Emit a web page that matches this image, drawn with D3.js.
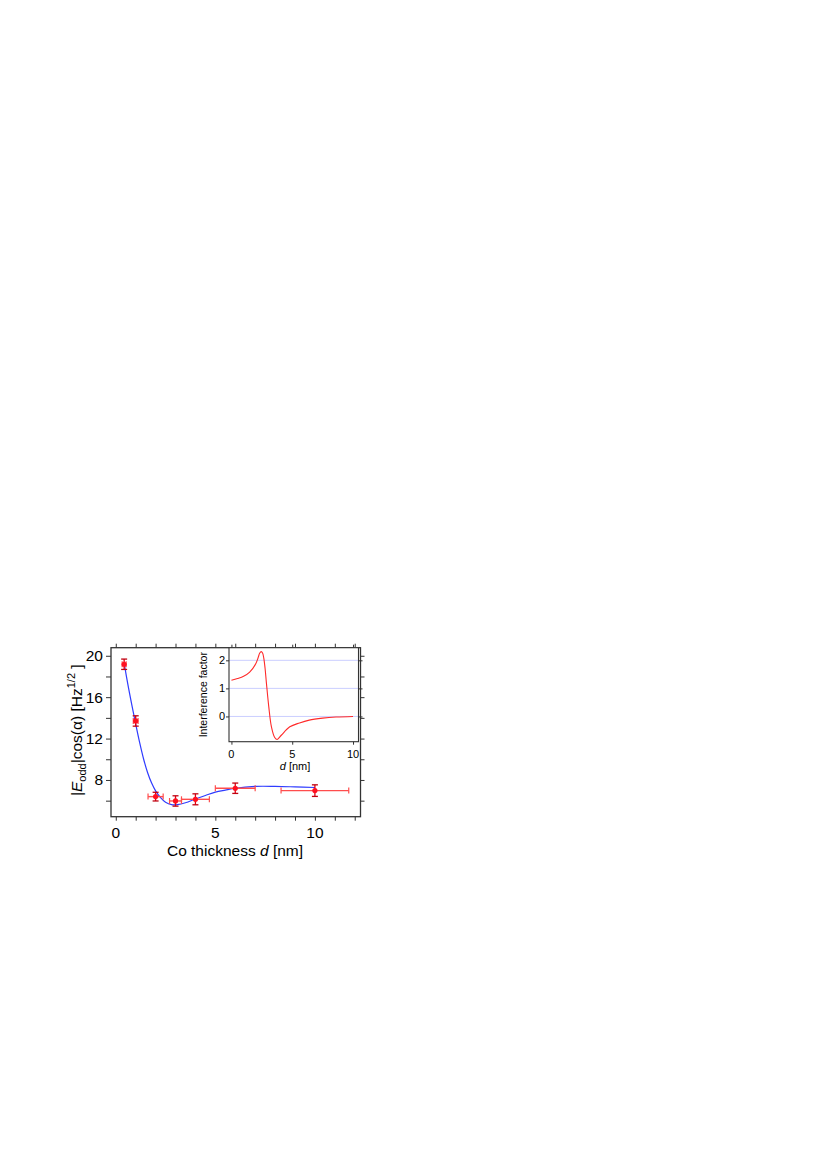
<!DOCTYPE html>
<html>
<head>
<meta charset="utf-8">
<script src="https://cdn.jsdelivr.net/npm/d3@7"></script>
<style>
  body { margin: 0; background: #fff; }
  svg { display: block; font-family: "Liberation Sans", Arial, Helvetica, sans-serif; }
</style>
</head>
<body>
<div id="chart"></div>
<script>
// measured points (Co thickness vs amplitude)
const thickness = [0.42, 1.0, 2.0, 3.0, 4.0, 6.0, 10.0];
const amplitude = [19.18, 13.7, 6.39, 5.97, 6.13, 7.2, 6.97];
const amplitudeErr = [0.5, 0.5, 0.42, 0.5, 0.53, 0.5, 0.56];
const thicknessErr = [0.1, 0.12, 0.38, 0.3, 0.7, 1.0, 1.7];

// fit curve (blue)
const fitD = [0.42, 0.6, 0.8, 1.0, 1.2, 1.4, 1.6, 1.8, 2.0, 2.25, 2.5, 2.8, 3.1, 3.5, 4.0, 4.5, 5.0, 5.5, 6.0, 7.0, 8.0, 9.0, 10.0];
const fitV = [19.3, 17.3, 15.3, 13.4, 11.6, 10.0, 8.7, 7.7, 6.95, 6.3, 5.85, 5.62, 5.62, 5.8, 6.16, 6.5, 6.82, 7.02, 7.2, 7.38, 7.38, 7.33, 7.27];

// inset: interference factor
const insetD = [0, 0.5, 1.0, 1.5, 2.0, 2.2, 2.32, 2.45, 2.56, 2.66, 2.77, 2.88, 3.07, 3.29, 3.56, 3.76, 4.1, 4.8, 5.6, 6.4, 7.5, 8.6, 10];
const insetV = [1.29, 1.35, 1.43, 1.58, 1.88, 2.1, 2.25, 2.31, 2.26, 2.08, 1.7, 1.18, 0.35, -0.37, -0.75, -0.82, -0.67, -0.37, -0.23, -0.13, -0.06, -0.02, 0];

const mainXTicks = d3.range(0, 13, 1);
const mainXLabels = [0, 5, 10];
const mainYTicks = [6, 8, 10, 12, 14, 16, 18, 20];
const mainYLabels = [8, 12, 16, 20];
const insetXTicks = [0, 5, 10];
const insetYTicks = [0, 1, 2];

const svg = d3.select("#chart").append("svg")
  .attr("width", 827)
  .attr("height", 1168);

const frame = { left: 111, right: 360.5, top: 647.7, bottom: 816.7 };
const x = d3.scaleLinear().domain([-0.24, 12.29]).range([frame.left, frame.right]);
const y = d3.scaleLinear().domain([4.45, 20.78]).range([frame.bottom, frame.top]);

const axisColor = "#333";

// main axes, ticks pointing outward
svg.append("g").attr("transform", `translate(0,${frame.top})`)
  .call(d3.axisTop(x).tickValues(mainXTicks).tickSize(4).tickFormat(""));
svg.append("g").attr("transform", `translate(0,${frame.bottom})`)
  .call(d3.axisBottom(x).tickValues(mainXTicks).tickSize(4).tickFormat(""));
svg.append("g").attr("transform", `translate(${frame.left},0)`)
  .call(d3.axisLeft(y).tickValues(mainYTicks).tickSize(5).tickFormat(""));
svg.append("g").attr("transform", `translate(${frame.right},0)`)
  .call(d3.axisRight(y).tickValues(mainYTicks).tickSize(4).tickFormat(""));

svg.selectAll(".domain").remove();
svg.selectAll(".tick line").attr("stroke", axisColor).attr("stroke-width", 1);

svg.append("rect")
  .attr("x", frame.left).attr("y", frame.top)
  .attr("width", frame.right - frame.left)
  .attr("height", frame.bottom - frame.top)
  .attr("fill", "none").attr("stroke", axisColor).attr("stroke-width", 1.3);

// tick labels
svg.append("g").selectAll("text").data(mainXLabels).join("text")
  .attr("x", d => x(d)).attr("y", 838)
  .attr("text-anchor", "middle").attr("font-size", 15.5)
  .text(d => d);
svg.append("g").selectAll("text").data(mainYLabels).join("text")
  .attr("x", 103).attr("y", d => y(d) + 5.5)
  .attr("text-anchor", "end").attr("font-size", 15.5)
  .text(d => d);

// axis titles
const xt = svg.append("text")
  .attr("x", 235).attr("y", 855.5)
  .attr("text-anchor", "middle").attr("font-size", 15.5);
xt.append("tspan").text("Co thickness ");
xt.append("tspan").attr("font-style", "italic").text("d");
xt.append("tspan").text(" [nm]");

const yt = svg.append("text")
  .attr("transform", `translate(82,${(frame.top + frame.bottom) / 2 - 2}) rotate(-90)`)
  .attr("text-anchor", "middle").attr("font-size", 15.5);
yt.append("tspan").text("|");
yt.append("tspan").attr("font-style", "italic").text("E");
yt.append("tspan").attr("font-size", 11).attr("dy", 4).text("odd");
yt.append("tspan").attr("dy", -4).text("|cos(α) [Hz");
yt.append("tspan").attr("font-size", 11).attr("dy", -7).text("1/2");
yt.append("tspan").attr("dy", 7).text(" ]");

// fit curve
const fitPts = fitD.map((d, i) => [d, fitV[i]]);
svg.append("path")
  .datum(fitPts)
  .attr("fill", "none")
  .attr("stroke", "#2f3cff")
  .attr("stroke-width", 1.2)
  .attr("d", d3.line().x(d => x(d[0])).y(d => y(d[1])).curve(d3.curveCatmullRom.alpha(0.5)));

// error bars and points
const pts = thickness.map((d, i) => ({ d, v: amplitude[i], ev: amplitudeErr[i], ed: thicknessErr[i] }));
const eb = svg.append("g");
const cap = 3;
pts.forEach(p => {
  // horizontal
  eb.append("line")
    .attr("x1", x(p.d - p.ed)).attr("x2", x(p.d + p.ed))
    .attr("y1", y(p.v)).attr("y2", y(p.v))
    .attr("stroke", "#ff4d4d").attr("stroke-width", 1.4);
  [p.d - p.ed, p.d + p.ed].forEach(e => {
    eb.append("line")
      .attr("x1", x(e)).attr("x2", x(e))
      .attr("y1", y(p.v) - cap).attr("y2", y(p.v) + cap)
      .attr("stroke", "#ff4d4d").attr("stroke-width", 1.2);
  });
  // vertical
  eb.append("line")
    .attr("x1", x(p.d)).attr("x2", x(p.d))
    .attr("y1", y(p.v - p.ev)).attr("y2", y(p.v + p.ev))
    .attr("stroke", "#e00010").attr("stroke-width", 1.3);
  [p.v - p.ev, p.v + p.ev].forEach(e => {
    eb.append("line")
      .attr("x1", x(p.d) - cap).attr("x2", x(p.d) + cap)
      .attr("y1", y(e)).attr("y2", y(e))
      .attr("stroke", "#c00010").attr("stroke-width", 1.3);
  });
});
svg.append("g").selectAll("circle").data(pts).join("circle")
  .attr("cx", p => x(p.d)).attr("cy", p => y(p.v))
  .attr("r", 2.6)
  .attr("fill", "#ff1020");

// ---------- inset ----------
const inset = { left: 229, right: 358.5, top: 647.7, bottom: 741.7 };
const ix = d3.scaleLinear().domain([-0.2, 10.45]).range([inset.left, inset.right]);
const iy = d3.scaleLinear().domain([-0.9, 2.45]).range([inset.bottom, inset.top]);

svg.append("rect")
  .attr("x", inset.left).attr("y", inset.top)
  .attr("width", inset.right - inset.left)
  .attr("height", inset.bottom - inset.top)
  .attr("fill", "#fff");

svg.append("g").selectAll("line").data(insetYTicks).join("line")
  .attr("x1", inset.left).attr("x2", inset.right)
  .attr("y1", d => iy(d)).attr("y2", d => iy(d))
  .attr("stroke", "#c4c8ff").attr("stroke-width", 0.9);

const ig = svg.append("g").attr("class", "inset-axes");
ig.append("g").attr("transform", `translate(0,${inset.bottom})`)
  .call(d3.axisBottom(ix).tickValues(insetXTicks).tickSize(3).tickFormat(""));
ig.append("g").attr("transform", `translate(0,${inset.top})`)
  .call(d3.axisTop(ix).tickValues(insetXTicks).tickSize(3).tickFormat(""));
ig.append("g").attr("transform", `translate(${inset.left},0)`)
  .call(d3.axisLeft(iy).tickValues(insetYTicks).tickSize(3).tickFormat(""));
ig.append("g").attr("transform", `translate(${inset.right},0)`)
  .call(d3.axisRight(iy).tickValues(insetYTicks).tickSize(4).tickFormat(""));
ig.selectAll(".domain").remove();
ig.selectAll(".tick line").attr("stroke", axisColor).attr("stroke-width", 1);

svg.append("rect")
  .attr("x", inset.left).attr("y", inset.top)
  .attr("width", inset.right - inset.left)
  .attr("height", inset.bottom - inset.top)
  .attr("fill", "none").attr("stroke", axisColor).attr("stroke-width", 1.1);

const insetPts = insetD.map((d, i) => [d, insetV[i]]);
svg.append("path")
  .datum(insetPts)
  .attr("fill", "none")
  .attr("stroke", "#ff2a2a")
  .attr("stroke-width", 1.1)
  .attr("d", d3.line().x(d => ix(d[0])).y(d => iy(d[1])).curve(d3.curveCatmullRom.alpha(0.5)));

svg.append("g").selectAll("text").data(insetXTicks).join("text")
  .attr("x", d => ix(d)).attr("y", 757.5)
  .attr("text-anchor", "middle").attr("font-size", 11)
  .text(d => d);
svg.append("g").selectAll("text").data(insetYTicks).join("text")
  .attr("x", 225).attr("y", d => iy(d) + 4)
  .attr("text-anchor", "end").attr("font-size", 11)
  .text(d => d);

const ixt = svg.append("text")
  .attr("x", 295).attr("y", 769.5)
  .attr("text-anchor", "middle").attr("font-size", 11);
ixt.append("tspan").attr("font-style", "italic").text("d");
ixt.append("tspan").text(" [nm]");

svg.append("text")
  .attr("transform", `translate(207,${(inset.top + inset.bottom) / 2}) rotate(-90)`)
  .attr("text-anchor", "middle").attr("font-size", 10.5)
  .text("Interference factor");
</script>
</body>
</html>
